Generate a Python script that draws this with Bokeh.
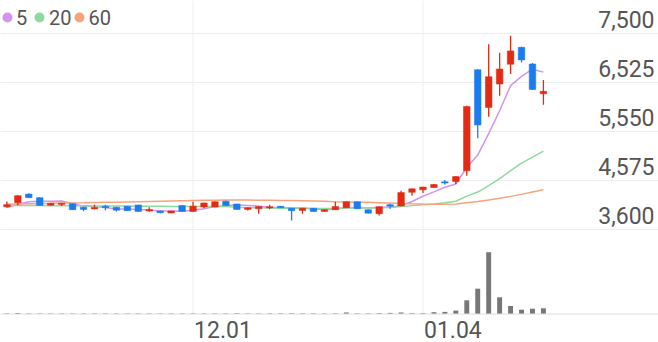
from bokeh.plotting import figure
from bokeh.models import Range1d, FixedTicker, Grid, Span, Label, BoxAnnotation, ColumnDataSource
from bokeh.core.properties import value
from bokeh.embed import file_html
from bokeh.resources import INLINE

# ---------------- data ----------------
dates = ["11.08", "11.09", "11.10", "11.13", "11.14", "11.15", "11.16", "11.17", "11.20", "11.21",
         "11.22", "11.23", "11.24", "11.27", "11.28", "11.29", "11.30", "12.01", "12.04", "12.05",
         "12.06", "12.07", "12.08", "12.11", "12.12", "12.13", "12.14", "12.15", "12.18", "12.19",
         "12.20", "12.21", "12.22", "12.26", "12.27", "12.28", "01.02", "01.03", "01.04", "01.05",
         "01.08", "01.09", "01.10", "01.11", "01.12", "01.15", "01.16", "01.17", "01.18", "01.19"]

opens = [4060, 4140, 4310, 4240, 4090, 4105, 4120, 4050, 4015, 4070,
         4050, 4070, 4095, 3975, 3975, 3935, 4085, 3965, 4055, 4055,
         4170, 4115, 4005, 4020, 4035, 4070, 4030, 3985, 4030, 3965,
         4000, 4040, 4160, 4000, 3920, 4100, 4075, 4345, 4395, 4440,
         4555, 4560, 4775, 6785, 6035, 6500, 6895, 7230, 6900, 6305]
highs = [4165, 4285, 4325, 4250, 4135, 4135, 4125, 4055, 4100, 4100,
         4055, 4075, 4100, 4050, 3980, 3980, 4090, 4160, 4140, 4165,
         4180, 4120, 4045, 4070, 4100, 4075, 4035, 4035, 4035, 4005,
         4160, 4165, 4165, 4005, 4065, 4120, 4375, 4420, 4455, 4510,
         4590, 4665, 6070, 6795, 7290, 7125, 7460, 7240, 6920, 6580]
lows = [4040, 4090, 4235, 4080, 4085, 4075, 3995, 3970, 4010, 3990,
        3965, 3975, 3960, 3960, 3930, 3930, 3960, 3960, 4030, 4050,
        4070, 4000, 3985, 3920, 4010, 4035, 3785, 3920, 3960, 3960,
        3995, 4035, 4015, 3925, 3885, 4020, 4070, 4280, 4330, 4435,
        4500, 4510, 4675, 5420, 5850, 6265, 6700, 6930, 6380, 6090]
closes = [4100, 4280, 4240, 4085, 4130, 4130, 4000, 4005, 4045, 4040,
          3990, 3980, 3965, 4005, 3940, 3975, 3965, 4070, 4135, 4160,
          4085, 4005, 4040, 4065, 4060, 4040, 3980, 4030, 3965, 4000,
          4065, 4160, 4020, 3930, 4060, 4070, 4340, 4415, 4450, 4500,
          4530, 4660, 6055, 5685, 6645, 6800, 7160, 6980, 6390, 6355]
volumes = [60, 110, 60, 50, 60, 50, 60, 50, 60, 50,
           60, 50, 60, 50, 60, 50, 60, 60, 50, 60,
           60, 70, 60, 50, 60, 60, 70, 60, 60, 50,
           60, 150, 60, 60, 90, 110, 150, 80, 80, 180,
           210, 340, 1370, 2530, 6170, 1670, 800, 430, 530, 570]

ma5 = [4045, 4110, 4160, 4170, 4169, 4175, 4119, 4070, 4062, 4044,
       4016, 4012, 4004, 3996, 3976, 3973, 3970, 3991, 4017, 4061,
       4083, 4091, 4085, 4071, 4051, 4042, 4037, 4035, 4015, 4003,
       4008, 4044, 4042, 4035, 4047, 4048, 4084, 4163, 4267, 4355,
       4447, 4511, 4839, 5086, 5515, 5969, 6469, 6654, 6795, 6737]
ma20 = [4085, 4085, 4083, 4082, 4080, 4080, 4078, 4077, 4076, 4075,
        4073, 4072, 4070, 4069, 4068, 4066, 4065, 4064, 4063, 4062,
        4062, 4048, 4038, 4037, 4033, 4029, 4028, 4029, 4025, 4023,
        4027, 4036, 4038, 4035, 4041, 4045, 4064, 4081, 4097, 4114,
        4136, 4169, 4270, 4351, 4480, 4618, 4777, 4925, 5046, 5164]
ma60 = [4110, 4115, 4120, 4125, 4128, 4132, 4135, 4138, 4142, 4146,
        4150, 4155, 4160, 4165, 4170, 4175, 4180, 4185, 4188, 4190,
        4192, 4192, 4191, 4190, 4188, 4185, 4182, 4178, 4172, 4166,
        4160, 4155, 4150, 4146, 4140, 4132, 4122, 4116, 4112, 4110,
        4110, 4112, 4138, 4163, 4195, 4228, 4265, 4305, 4350, 4395]

price_ticks = [3600, 4575, 5550, 6525, 7500]
price_tick_labels = ["3,600", "4,575", "5,550", "6,525", "7,500"]
date_ticks = ["12.01", "01.04"]
ma_names = ["5", "20", "60"]

# ---------------- styles ----------------
UP = "#e42a12"
DOWN = "#1b7cf0"
MA_COLORS = ["#d592ee", "#8ddb9c", "#f7a47d"]
GRID = "#eeeeee"
TXT = "#555555"
FONT = value("Roboto")

W, H = 658, 342
idx = list(range(len(dates)))

p = figure(width=W, height=H, output_backend="svg", toolbar_location=None, tools="",
           x_range=Range1d(-0.584, 59.51), y_range=Range1d(1357.5, 8162.6),
           x_axis_type=None, y_axis_type=None, min_border=0,
           outline_line_color=None, background_fill_color="white")
p.extra_y_ranges = {"vol": Range1d(-2850, 31350)}

# grid
p.add_layout(Grid(dimension=1, ticker=FixedTicker(ticks=price_ticks),
                  grid_line_color=GRID, grid_line_width=1))
xt = [dates.index(d) for d in date_ticks]
vr = p.extra_y_ranges["vol"]
p.segment(x0=xt, x1=xt, y0=[0] * len(xt), y1=[vr.end] * len(xt), y_range_name="vol",
          line_color=GRID, line_width=1)
p.add_layout(Span(location=0, dimension="width", y_range_name="vol",
                  line_color="#dddddd", line_width=1))

# moving averages
for ma, col in zip([ma5, ma20, ma60], MA_COLORS):
    p.line(idx, ma, line_color=col, line_width=1.5)

# candles
colors = [UP if c >= o else DOWN for o, c in zip(opens, closes)]
src = ColumnDataSource(dict(
    x=idx, high=highs, low=lows,
    top=[max(o, c) for o, c in zip(opens, closes)],
    bottom=[min(o, c) for o, c in zip(opens, closes)],
    color=colors, vol=volumes))
p.segment(x0="x", x1="x", y0="low", y1="high", source=src, line_color="color", line_width=1.3)
p.vbar(x="x", width=0.6, top="top", bottom="bottom", source=src,
       fill_color="color", line_color="color", line_width=0.5)

# volume
p.vbar(x="x", width=0.45, top="vol", bottom=0, source=src, y_range_name="vol",
       fill_color="#777777", line_color=None)

# price labels (inside, above grid lines, right aligned)
p.text(x=[p.x_range.end] * len(price_ticks), y=price_ticks, text=price_tick_labels,
       text_align="right", text_baseline="middle", x_offset=-4, y_offset=-14,
       text_font=FONT, text_font_size="23px", text_color=TXT)

# date labels
p.text(x=xt, y=[0] * len(xt), y_range_name="vol", text=date_ticks,
       text_align="left", text_baseline="middle", x_offset=1, y_offset=15,
       text_font=FONT, text_font_size="23px", text_color=TXT)

# legend (dots + labels)
dot_x = [2, 34, 74]
lab_x = [15.5, 48.5, 88]
for cx, lx, col, name in zip(dot_x, lab_x, MA_COLORS, ma_names):
    p.add_layout(BoxAnnotation(left=cx, right=cx + 10, top=H - 12, bottom=H - 22,
                               left_units="screen", right_units="screen",
                               top_units="screen", bottom_units="screen",
                               fill_color=col, fill_alpha=1, line_color=None,
                               border_radius=5))
    p.add_layout(Label(x=lx, y=H - 16.5, x_units="screen", y_units="screen", text=name,
                       text_align="left", text_baseline="middle",
                       text_font="Roboto", text_font_size="20px", text_color=TXT))

open("out.html", "w").write(file_html(p, INLINE))
